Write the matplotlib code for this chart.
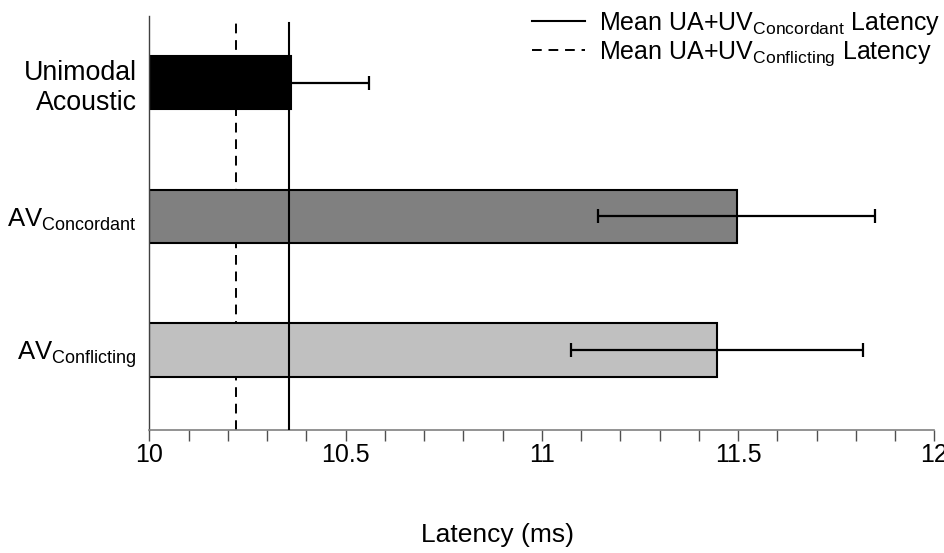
import matplotlib.pyplot as plt
from matplotlib.ticker import MultipleLocator

plt.rcParams['font.family'] = ['Liberation Sans', 'DejaVu Sans']
plt.rcParams['mathtext.fontset'] = 'custom'
plt.rcParams['mathtext.rm'] = 'Liberation Sans'
plt.rcParams['mathtext.it'] = 'Liberation Sans:italic'

# Conditions (top to bottom), mean latency and error
conditions = ['Unimodal\nAcoustic', r'AV$_{\mathrm{Concordant}}$', r'AV$_{\mathrm{Conflicting}}$']
latency = [10.36, 11.496, 11.445]
error = [0.2, 0.352, 0.372]
colors = ['#000000', '#808080', '#c0c0c0']

# Mean unimodal (UA+UV) reference latencies
mean_concordant = 10.355
mean_conflicting = 10.22

fig = plt.figure(figsize=(9.45, 5.53), dpi=100)
ax = fig.add_axes([0.1582, 0.2224, 0.8305, 0.7487])

ypos = list(range(len(conditions)))
ax.barh(ypos, [v - 10 for v in latency], left=10, height=0.40,
        color=colors, edgecolor='black', linewidth=1.5, zorder=2)
ax.errorbar(latency, ypos, xerr=error, fmt='none', ecolor='black',
            elinewidth=1.6, capsize=5, capthick=1.6, zorder=3)

l1 = ax.axvline(mean_concordant, ymax=0.984, color='black', lw=1.5, zorder=4)
l2 = ax.axvline(mean_conflicting, ymax=0.984, color='black', lw=1.4,
                linestyle=(0, (5, 3.5)), zorder=1)

ax.set_xlim(10, 12)
ax.set_ylim(2.6, -0.5)
ax.set_yticks(ypos)
ylabels = ax.set_yticklabels(conditions, fontsize=18.5)
ylabels[0].set_fontsize(19.3)
ax.tick_params(axis='y', length=0, pad=9)

ax.xaxis.set_major_locator(MultipleLocator(0.5))
ax.xaxis.set_minor_locator(MultipleLocator(0.1))
ax.xaxis.set_major_formatter(plt.FuncFormatter(lambda v, p: f'{v:g}'))
ax.tick_params(axis='x', which='both', direction='out', length=8,
               width=1, colors='#505050', labelcolor='black', labelsize=18, pad=1.5)

for side in ['top', 'right']:
    ax.spines[side].set_visible(False)
ax.spines['left'].set_color('#404040')
ax.spines['bottom'].set_color('#808080')
ax.spines['left'].set_linewidth(1)
ax.spines['bottom'].set_linewidth(1.2)

ax.set_xlabel('Latency (ms)', fontsize=19)
ax.xaxis.set_label_coords(0.444, -0.225)

fig.legend([l1, l2],
           [r'Mean UA+UV$_{\mathrm{Concordant}}$ Latency',
            r'Mean UA+UV$_{\mathrm{Conflicting}}$ Latency'],
           loc='upper right', bbox_to_anchor=(1.0, 0.991), frameon=False,
           fontsize=18, handlelength=2.1, handletextpad=0.55,
           labelspacing=0.08, borderpad=0.2, borderaxespad=0)

fig.savefig('out.png', dpi=100)
